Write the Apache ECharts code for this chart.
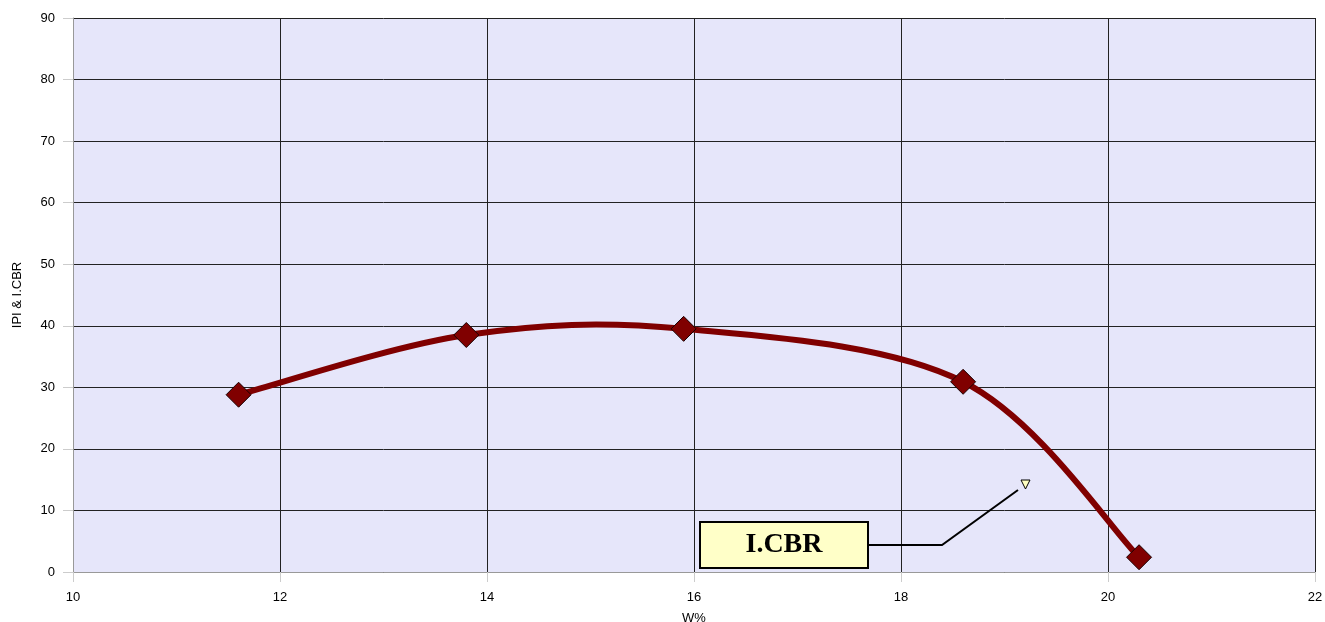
<!DOCTYPE html>
<html lang="en" style="height: 100%">
<head>
<meta charset="utf-8">
<title>IPI & I.CBR vs W%</title>
</head>
<body style="height: 100%; margin: 0; background: #fff">
<div id="container" style="height: 100%"></div>

<script type="text/javascript" src="https://cdn.jsdelivr.net/npm/echarts/dist/echarts.min.js"></script>

<script type="text/javascript">
// data
var waterContent = [11.6, 13.8, 15.9, 18.6, 20.3];
var cbrValues = [28.8, 38.5, 39.5, 30.9, 2.4];
var labelText = 'I.CBR';

var dom = document.getElementById('container');
var myChart = echarts.init(dom);

var points = waterContent.map(function (w, i) { return [w, cbrValues[i]]; });

var axisFont = { color: '#000', fontFamily: 'Liberation Sans, Arial', fontSize: 13 };

// Excel-like smoothed segment (Catmull-Rom, tension 1/6), computed in pixel space
function renderSegment(params, api) {
    var i = params.dataIndex;
    if (i >= points.length - 1) return null;
    var p = points.map(function (pt) { return api.coord(pt); });
    var p0 = p[Math.max(i - 1, 0)];
    var p1 = p[i];
    var p2 = p[i + 1];
    var p3 = p[Math.min(i + 2, p.length - 1)];
    return {
        type: 'bezierCurve',
        shape: {
            x1: p1[0], y1: p1[1],
            x2: p2[0], y2: p2[1],
            cpx1: p1[0] + (p2[0] - p0[0]) / 6,
            cpy1: p1[1] + (p2[1] - p0[1]) / 6,
            cpx2: p2[0] - (p3[0] - p1[0]) / 6,
            cpy2: p2[1] - (p3[1] - p1[1]) / 6
        },
        style: { stroke: '#800000', lineWidth: 6, fill: null, lineCap: 'round' }
    };
}

var option = {
    animation: false,
    grid: {
        left: 73,
        right: 10,
        top: 18,
        bottom: 50,
        show: true,
        backgroundColor: '#E6E6FA',
        borderWidth: 0,
        containLabel: false,
        outerBoundsMode: 'none'
    },
    xAxis: {
        type: 'value',
        min: 10,
        max: 22,
        interval: 2,
        name: 'W%',
        nameLocation: 'middle',
        nameGap: 40,
        nameTextStyle: axisFont,
        axisLine: { lineStyle: { color: '#999' } },
        axisTick: { show: true, length: 10, lineStyle: { color: '#ccc' } },
        axisLabel: Object.assign({ margin: 19 }, axisFont),
        splitLine: { lineStyle: { color: '#222', width: 1 } }
    },
    yAxis: {
        type: 'value',
        min: 0,
        max: 90,
        interval: 10,
        name: 'IPI & I.CBR',
        nameLocation: 'middle',
        nameGap: 49,
        nameTextStyle: axisFont,
        axisLine: { show: true, lineStyle: { color: '#999' } },
        axisTick: { show: true, length: 10, lineStyle: { color: '#ccc' } },
        axisLabel: Object.assign({ margin: 18 }, axisFont),
        splitLine: { lineStyle: { color: '#222', width: 1 } }
    },
    series: [
        {
            type: 'custom',
            renderItem: renderSegment,
            data: points,
            clip: true,
            z: 2
        },
        {
            type: 'scatter',
            data: points,
            symbol: 'diamond',
            symbolSize: 25,
            itemStyle: { color: '#800000', borderColor: '#1a0000', borderWidth: 1, opacity: 1 },
            z: 3
        }
    ],
    graphic: [
        {
            type: 'polyline',
            shape: { points: [[868, 545], [942, 545], [1018, 490]] },
            style: { stroke: '#000', lineWidth: 2, fill: null },
            z: 10
        },
        {
            type: 'polygon',
            shape: { points: [[1021, 480], [1030, 480], [1025.5, 489]] },
            style: { fill: '#FFFFC0', stroke: '#000', lineWidth: 1 },
            z: 10
        },
        {
            type: 'rect',
            shape: { x: 700, y: 522, width: 168, height: 46 },
            style: { fill: '#FFFFC8', stroke: '#000', lineWidth: 2 },
            z: 11
        },
        {
            type: 'text',
            x: 784,
            y: 545,
            style: {
                text: labelText,
                fill: '#000',
                font: 'bold 28px "Liberation Serif", "Times New Roman", serif',
                align: 'center',
                verticalAlign: 'middle'
            },
            z: 12
        }
    ]
};

myChart.setOption(option);
window.addEventListener('resize', myChart.resize);
</script>
</body>
</html>
